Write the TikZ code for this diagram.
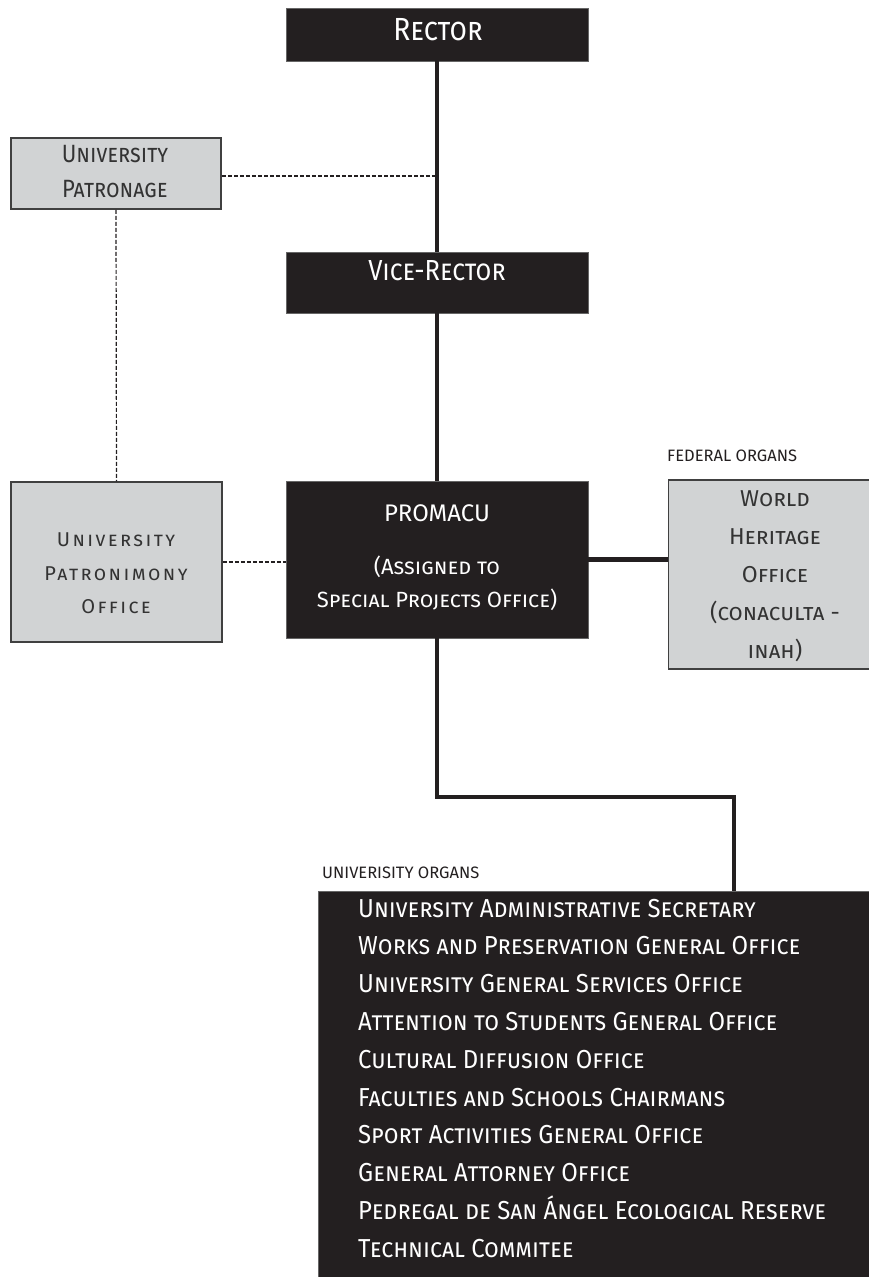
\documentclass[tikz,border=0pt]{standalone}
\usepackage{fontspec}
\setmainfont{Fira Sans}
\newfontfamily\narrowfont{Fira Sans}[FakeStretch=0.88]
\newfontfamily\listfont{Fira Sans}[FakeStretch=0.92]
\newfontfamily\spacedfont{Fira Sans}[LetterSpace=12]
\definecolor{boxblack}{HTML}{231F20}
\definecolor{boxgrey}{HTML}{D1D3D4}
\definecolor{edgegrey}{HTML}{404040}
\tikzset{
  darkbox/.style={draw=black!60, line width=0.8pt, fill=boxblack, inner sep=0pt},
  greybox/.style={draw=edgegrey, line width=1.5pt, fill=boxgrey, inner sep=0pt},
  darktxt/.style={text=white, align=center, inner sep=0pt},
  greytxt/.style={text=black!80, align=center, inner sep=0pt},
  trunk/.style={draw=boxblack, line width=3.5pt},
  dashlink/.style={draw=boxblack, line width=1.2pt, dash pattern=on 4pt off 2pt},
  groupname/.style={anchor=west, text=boxblack, inner sep=0pt, font=\fontsize{16.5}{18}\selectfont},
  orgitem/.style={anchor=west, text=white, inner sep=0pt, text height=18pt, text depth=0pt,
    font=\listfont\fontsize{26}{30}\selectfont\scshape}
}
\begin{document}
\begin{tikzpicture}[x=1pt, y=-1pt]
\useasboundingbox (0,0) rectangle (869,1277);
\clip (0,0) rectangle (869,1277);

% boxes
\node[darkbox, minimum width=302pt, minimum height=53pt] (rector) at (437,34.5) {};
\node[darkbox, minimum width=302pt, minimum height=61pt] (vice) at (437,282.5) {};
\node[greybox, minimum width=210pt, minimum height=71pt] (patronage) at (116,173.5) {};
\node[greybox, minimum width=211pt, minimum height=160pt] (patrimony) at (116.5,562) {};
\node[darkbox, minimum width=302pt, minimum height=157pt] (promacu) at (437,559.5) {};
\node[greybox, minimum width=204pt, minimum height=189pt] (heritage) at (770.5,574.5) {};
\node[darkbox, anchor=north west, minimum width=560pt, minimum height=395pt] (organs) at (318,891) {};

% texts
\node[darktxt, font=\narrowfont\fontsize{32}{38}\selectfont\scshape] (rector-txt) at (438,29.5) {Rector};
\node[darktxt, font=\narrowfont\fontsize{29}{34}\selectfont\scshape] (vice-txt) at (437,271) {Vice-Rector};
\node[greytxt, font=\narrowfont\fontsize{25}{35}\selectfont\scshape] (patronage-txt) at (115,171.5) {University\\Patronage};
\node[greytxt, font=\spacedfont\fontsize{20}{33.5}\selectfont\scshape] (patrimony-txt) at (116,573.5) {University\\Patronimony\\Office};
\node[darktxt, font=\fontsize{22}{33}\selectfont\scshape] (promacu-txt) at (437,558)
  {{\fontsize{24}{33}\selectfont PROMACU}\\[20pt](Assigned to\\Special Projects Office)};
\node[greytxt, font=\fontsize{23}{38}\selectfont\scshape] (heritage-txt) at (775,576)
  {World\\Heritage\\Office\\(conaculta -\\inah)};

\node[groupname] (federal) at (667,456) {FEDERAL ORGANS};
\node[groupname] (univ) at (322,873) {UNIVERISITY ORGANS};

\foreach \orgname [count=\i] in {University Administrative Secretary,
    Works and Preservation General Office, University General Services Office,
    Attention to Students General Office, Cultural Diffusion Office,
    Faculties and Schools Chairmans, Sport Activities General Office,
    General Attorney Office, Pedregal de San Ángel Ecological Reserve,
    Technical Commitee}
  \node[orgitem] (org\i) at (358,{908+37.8*(\i-1)}) {\orgname};

% connectors
\coordinate (tap) at (437,176);
\coordinate (elbow) at (734,797);
\draw[trunk] (rector.south) -- (vice.north);
\draw[trunk] (vice.south) -- (promacu.north);
\draw[dashlink] (patronage.east |- tap) -- (tap);
\draw[dashlink] (patronage.south) -- (patrimony.north);
\draw[dashlink] (patrimony.east) -- (patrimony.east -| promacu.west);
\draw[boxblack, line width=5pt] (promacu.east) -- (promacu.east -| heritage.west);
\draw[trunk] (promacu.south) |- (elbow) -- (elbow |- organs.north);
\end{tikzpicture}
\end{document}
